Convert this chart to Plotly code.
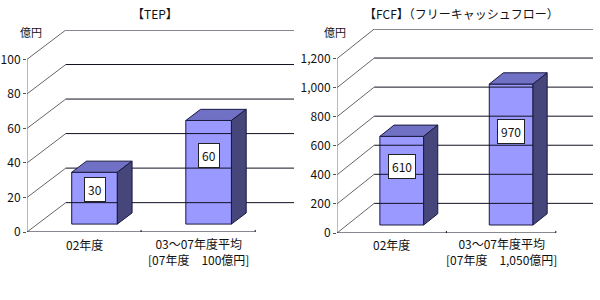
import plotly.graph_objects as go

# ---- data ----
categories = ["02年度", "03～07年度平均"]
second_line = ["[07年度　100億円]", "[07年度　1,050億円]"]
tep_values = [30, 60]
fcf_values = [610, 970]
tep_ticks = [0, 20, 40, 60, 80, 100]
fcf_ticks = [0, 200, 400, 600, 800, 1000, 1200]
titles = ["【TEP】", "【FCF】（フリーキャッシュフロー）"]
unit_label = "億円"

W, H = 600, 300
FONT = "Noto Sans CJK JP"
FRONT = "#9999FF"
TOP = "#7070C4"
SIDE = "#46467A"
EDGE = "#1a1a40"

DX = 0.34          # depth in category units
DY_FRAC = 0.17     # depth as fraction of axis max
F1, F2 = 0.27, 0.65  # bar front/back depth fractions
BW = 0.40          # bar width


def px_domain(a, b, total, flip=False):
    if flip:
        return [(total - b) / total, (total - a) / total]
    return [a / total, b / total]


def py(p):
    return (H - p) / H


fig = go.Figure()

charts = [
    dict(values=tep_values, ticks=tep_ticks, xa="x", ya="y",
         xdom=(27, 294), ydom=(30, 232), title=titles[0], tx=155,
         unit_x=31, sub=second_line[0]),
    dict(values=fcf_values, ticks=fcf_ticks, xa="x2", ya="y2",
         xdom=(337, 593), ydom=(29, 233), title=titles[1], tx=461,
         unit_x=335, sub=second_line[1]),
]

TXT = dict(family=FONT, size=12, color="#111111")
annotations = []
for i, ch in enumerate(charts):
    ymax = ch["ticks"][-1]
    DY = DY_FRAC * ymax
    xa, ya = ch["xa"], ch["ya"]
    x0, x1 = -0.5, 1.5

    # diagonal lines from front axis to back wall
    dx_, dy_ = [], []
    for v in ch["ticks"]:
        dx_ += [x0, x0 + DX, None]
        dy_ += [v, v + DY, None]
    fig.add_trace(go.Scatter(x=dx_, y=dy_, mode="lines", xaxis=xa, yaxis=ya,
                             line=dict(color="#666666", width=1),
                             hoverinfo="skip", showlegend=False))
    # back wall gridlines
    gx, gy = [], []
    for v in ch["ticks"]:
        gx += [x0 + DX, x1 + DX, None]
        gy += [v + DY, v + DY, None]
    fig.add_trace(go.Scatter(x=gx, y=gy, mode="lines", xaxis=xa, yaxis=ya,
                             line=dict(color="#111122", width=1),
                             hoverinfo="skip", showlegend=False))
    # front y axis line
    fig.add_trace(go.Scatter(x=[x0, x0], y=[0, ymax], mode="lines",
                             xaxis=xa, yaxis=ya,
                             line=dict(color="#777777", width=1),
                             hoverinfo="skip", showlegend=False))
    # front baseline + category ticks
    tk = 0.012 * ymax
    fig.add_trace(go.Scatter(x=[x0, x1, None, 0.5, 0.5, None, 1.5, 1.5],
                             y=[0, 0, None, 0, tk, None, 0, tk],
                             mode="lines", xaxis=xa, yaxis=ya,
                             line=dict(color="#111122", width=1),
                             hoverinfo="skip", showlegend=False))

    # bars
    for c, v in enumerate(ch["values"]):
        l = c - BW / 2
        r = c + BW / 2
        # top face
        fig.add_trace(go.Scatter(
            x=[l + F1 * DX, r + F1 * DX, r + F2 * DX, l + F2 * DX, l + F1 * DX],
            y=[v + F1 * DY, v + F1 * DY, v + F2 * DY, v + F2 * DY, v + F1 * DY],
            mode="lines", fill="toself", fillcolor=TOP, xaxis=xa, yaxis=ya,
            line=dict(color=EDGE, width=1), hoverinfo="skip", showlegend=False))
        # side face
        fig.add_trace(go.Scatter(
            x=[r + F1 * DX, r + F2 * DX, r + F2 * DX, r + F1 * DX, r + F1 * DX],
            y=[F1 * DY, F2 * DY, v + F2 * DY, v + F1 * DY, F1 * DY],
            mode="lines", fill="toself", fillcolor=SIDE, xaxis=xa, yaxis=ya,
            line=dict(color=EDGE, width=1), hoverinfo="skip", showlegend=False))
        # value label
        annotations.append(dict(
            x=c + F1 * DX, y=F1 * DY + 0.66 * v, xref=xa, yref=ya,
            xanchor="center", yanchor="middle",
            text=f"{v:,}", showarrow=False, bgcolor="white",
            bordercolor="#222222", borderwidth=1, borderpad=3,
            font=TXT))
    # front faces
    fig.add_trace(go.Bar(
        x=[c + F1 * DX for c in range(len(ch["values"]))],
        y=ch["values"], base=[F1 * DY] * len(ch["values"]), width=BW,
        marker=dict(color=FRONT, line=dict(color=EDGE, width=1)),
        xaxis=xa, yaxis=ya, hoverinfo="skip", showlegend=False))

    # category labels
    annotations.append(dict(x=0, y=py(244), xref=xa, yref="paper",
                            xanchor="center", yanchor="middle",
                            text=categories[0], showarrow=False, font=TXT))
    annotations.append(dict(x=1, y=py(251), xref=xa, yref="paper",
                            xanchor="center", yanchor="middle",
                            text=categories[1] + "<br>" + ch["sub"],
                            showarrow=False, font=TXT))
    # title
    annotations.append(dict(x=ch["tx"] / W, y=py(13), xref="paper",
                            yref="paper", xanchor="center", yanchor="middle",
                            text=ch["title"], showarrow=False, font=TXT))
    # unit
    annotations.append(dict(x=ch["unit_x"] / W, y=py(32), xref="paper",
                            yref="paper", xanchor="center", yanchor="middle",
                            text=unit_label, showarrow=False,
                            font=dict(family=FONT, size=11, color="#111111")))

    axx = dict(domain=px_domain(*ch["xdom"], W), range=[x0, x1 + DX],
               showgrid=False, zeroline=False, showline=False,
               showticklabels=False, ticks="", fixedrange=True,
               automargin=False)
    axy = dict(domain=px_domain(*ch["ydom"], H, flip=True), range=[0, ymax + DY],
               showgrid=False, zeroline=False, showline=False,
               tickvals=ch["ticks"], ticktext=[f"{t:,}" for t in ch["ticks"]],
               ticks="outside", ticklen=3, tickcolor="#555555",
               tickfont=TXT, fixedrange=True, automargin=False)
    if i == 0:
        fig.update_layout(xaxis=dict(axx, anchor="y"), yaxis=dict(axy, anchor="x"))
    else:
        fig.update_layout(xaxis2=dict(axx, anchor="y2"),
                          yaxis2=dict(axy, anchor="x2"))

fig.update_layout(width=W, height=H, margin=dict(l=0, r=0, t=0, b=0, pad=0),
                  paper_bgcolor="white", plot_bgcolor="rgba(0,0,0,0)",
                  annotations=annotations, barmode="overlay")
fig.write_html("out.html")
